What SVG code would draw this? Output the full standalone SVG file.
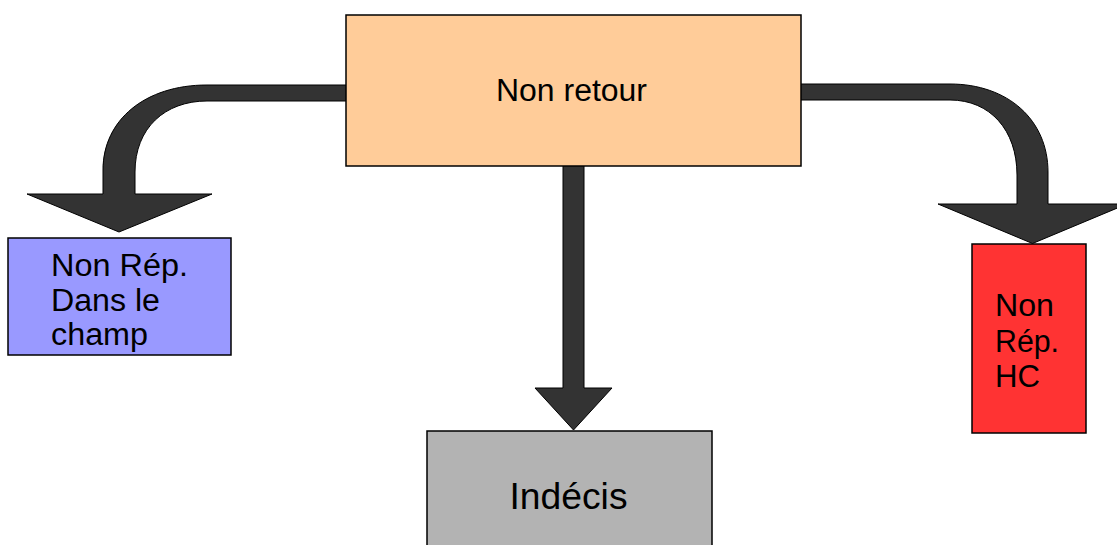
<svg xmlns="http://www.w3.org/2000/svg" width="1117" height="545" viewBox="0 0 1117 545">
  <style>
    .box { stroke: #000; stroke-width: 1.5; }
    .arrow { fill: #333333; stroke: #000; stroke-width: 1; stroke-linejoin: miter; }
    .label { font-family: "Liberation Sans", Arial, sans-serif; fill: #000; font-size: 31px; }
  </style>
  <rect width="1117" height="545" fill="#ffffff"/>

  <!-- block arrows, drawn beneath the boxes -->
  <g id="connectors">
    <path class="arrow" d="M 350,85 L 207,85 C 145,85 103,120 103,170 L 103,194 L 27,194 L 119,232 L 212,194 L 135,194 L 135,172 C 135,128 165,101 207,101 L 350,101 Z"/>
    <path class="arrow" d="M 797,84 L 950,84 C 1008,84 1048,120 1048,172 L 1048,204 L 1127,204 L 1032.5,243.5 L 938,204 L 1017,204 L 1017,175 C 1017,130 990,100 950,100 L 797,100 Z"/>
    <path class="arrow" d="M 563,162 L 563,388 L 535,388 L 573.5,430 L 612,388 L 584,388 L 584,162 Z"/>
  </g>

  <g id="node-non-retour">
    <rect class="box" x="346" y="15" width="455" height="151" fill="#ffcc99"/>
    <text class="label" x="496" y="101" textLength="151" lengthAdjust="spacingAndGlyphs">Non retour</text>
  </g>

  <g id="node-non-rep-champ">
    <rect class="box" x="8" y="238" width="223" height="117" fill="#9999ff"/>
    <text class="label" x="51" y="275.5" textLength="137" lengthAdjust="spacingAndGlyphs">Non Rép.</text>
    <text class="label" x="51" y="310.5" textLength="109" lengthAdjust="spacingAndGlyphs">Dans le</text>
    <text class="label" x="51" y="345" textLength="97" lengthAdjust="spacingAndGlyphs">champ</text>
  </g>

  <g id="node-non-rep-hc">
    <rect class="box" x="972" y="244" width="114" height="189" fill="#ff3333"/>
    <text class="label" x="995" y="316" textLength="59" lengthAdjust="spacingAndGlyphs">Non</text>
    <text class="label" x="995" y="351.5" textLength="64" lengthAdjust="spacingAndGlyphs">Rép.</text>
    <text class="label" x="995" y="386.5" textLength="45" lengthAdjust="spacingAndGlyphs">HC</text>
  </g>

  <g id="node-indecis">
    <rect class="box" x="427" y="431" width="285" height="130" fill="#b3b3b3"/>
    <text class="label" x="509.5" y="509" font-size="37" style="font-size:37px" textLength="118" lengthAdjust="spacingAndGlyphs">Indécis</text>
  </g>
</svg>
